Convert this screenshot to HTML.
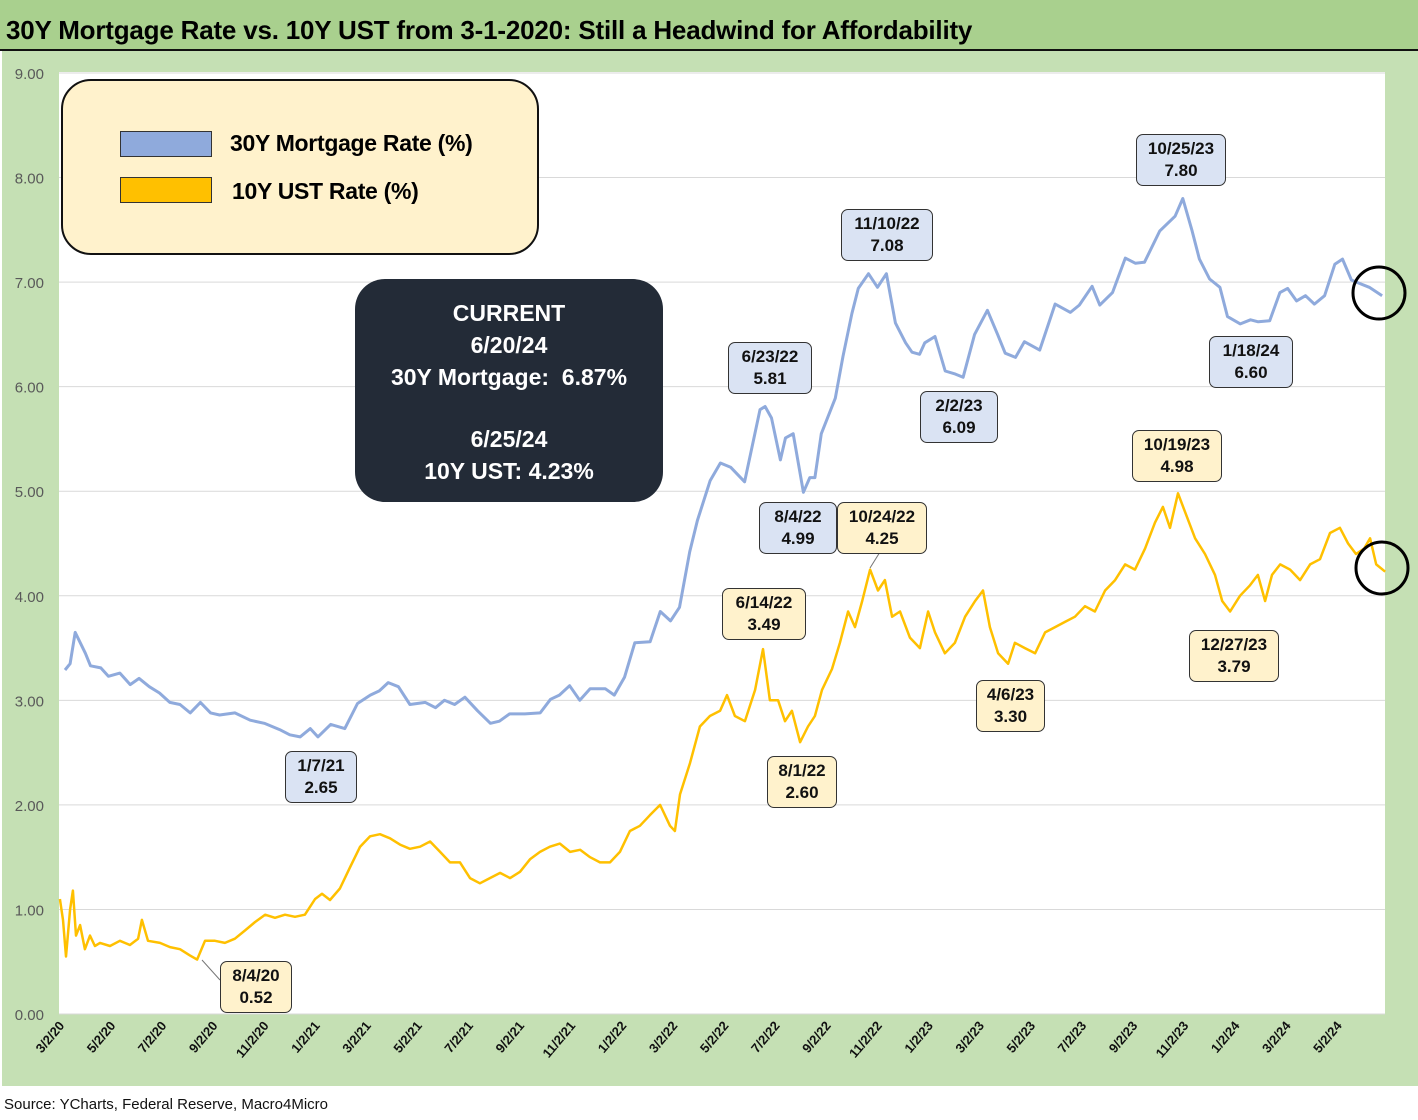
<!DOCTYPE html>
<html><head><meta charset="utf-8">
<style>
body{margin:0;width:1418px;height:1120px;position:relative;background:#fff;font-family:"Liberation Sans",sans-serif;overflow:hidden}
.abs{position:absolute}
.cb{position:absolute;border:1.5px solid #333;border-radius:7px;font-weight:bold;font-size:17px;text-align:center;line-height:22px;padding:3px 0;color:#111}
.bl{background:#dae3f3}.yl{background:#fff2cc}
</style></head><body>
<div class="abs" style="left:0;top:0;width:1418px;height:49px;background:#a9d08e;border-bottom:2px solid #111"></div>
<div class="abs" style="left:6px;top:15px;font-size:26px;font-weight:bold;color:#000;white-space:nowrap;letter-spacing:-0.2px">30Y Mortgage Rate vs. 10Y UST from 3-1-2020: Still a Headwind for Affordability</div>
<div class="abs" style="left:2px;top:51px;width:1416px;height:1035px;background:#c5e0b4"></div>
<svg class="abs" style="left:0;top:0" width="1418" height="1120" id="chart"></svg>
<div class="abs" style="left:61px;top:79px;width:474px;height:172px;background:#fff2cc;border:2px solid #111;border-radius:30px"></div>
<div class="abs" style="left:120px;top:131px;width:90px;height:24px;background:#8faadc;border:1px solid #333"></div>
<div class="abs" style="left:230px;top:130px;font-size:23px;font-weight:bold;letter-spacing:-0.3px">30Y Mortgage Rate (%)</div>
<div class="abs" style="left:120px;top:177px;width:90px;height:24px;background:#ffc000;border:1px solid #333"></div>
<div class="abs" style="left:232px;top:178px;font-size:23px;font-weight:bold;letter-spacing:-0.3px">10Y UST Rate (%)</div>
<div class="abs" style="left:355px;top:279px;width:308px;height:223px;background:#232b37;border-radius:30px;color:#fff;font-weight:bold;font-size:23px;text-align:center;line-height:32px;padding-top:18px;box-sizing:border-box">CURRENT<br>6/20/24<br>30Y Mortgage:&nbsp; 6.87%<br><div style="height:30px"></div>6/25/24<br>10Y UST: 4.23%</div>
<div class="cb bl" style="left:285px;top:751px;width:70px">1/7/21<br>2.65</div>
<div class="cb bl" style="left:728px;top:342px;width:82px">6/23/22<br>5.81</div>
<div class="cb bl" style="left:759px;top:502px;width:76px">8/4/22<br>4.99</div>
<div class="cb bl" style="left:841px;top:209px;width:90px">11/10/22<br>7.08</div>
<div class="cb bl" style="left:920px;top:391px;width:76px">2/2/23<br>6.09</div>
<div class="cb bl" style="left:1136px;top:134px;width:88px">10/25/23<br>7.80</div>
<div class="cb bl" style="left:1209px;top:336px;width:82px">1/18/24<br>6.60</div>
<div class="cb yl" style="left:220px;top:961px;width:70px">8/4/20<br>0.52</div>
<div class="cb yl" style="left:722px;top:588px;width:82px">6/14/22<br>3.49</div>
<div class="cb yl" style="left:767px;top:756px;width:68px">8/1/22<br>2.60</div>
<div class="cb yl" style="left:837px;top:502px;width:88px">10/24/22<br>4.25</div>
<div class="cb yl" style="left:976px;top:680px;width:67px">4/6/23<br>3.30</div>
<div class="cb yl" style="left:1132px;top:430px;width:88px">10/19/23<br>4.98</div>
<div class="cb yl" style="left:1189px;top:630px;width:88px">12/27/23<br>3.79</div>
<div class="abs" style="left:4px;top:1096px;font-size:15px;color:#111">Source: YCharts, Federal Reserve, Macro4Micro</div>
<script>
const yTicks=[0,1,2,3,4,5,6,7,8,9];
const xTickLabels=["3/2/20","5/2/20","7/2/20","9/2/20","11/2/20","1/2/21","3/2/21","5/2/21","7/2/21","9/2/21","11/2/21","1/2/22","3/2/22","5/2/22","7/2/22","9/2/22","11/2/22","1/2/23","3/2/23","5/2/23","7/2/23","9/2/23","11/2/23","1/2/24","3/2/24","5/2/24"];
// months since 3/2/20
const mortMonths=[0,0.2,0.4,0.8,1.0,1.4,1.7,2.15,2.55,2.9,3.3,3.7,4.1,4.5,4.9,5.3,5.7,6.05,6.65,7.25,7.8,8.4,8.8,9.2,9.6,9.9,10.4,10.95,11.45,11.95,12.3,12.65,13.05,13.5,14.1,14.5,14.85,15.25,15.65,16.15,16.65,17.0,17.4,18.0,18.6,19.0,19.35,19.75,20.15,20.55,21.15,21.5,21.9,22.3,22.9,23.3,23.7,24.05,24.45,24.75,25.25,25.65,26.05,26.6,27.2,27.4,27.65,28.0,28.2,28.5,28.9,29.15,29.35,29.6,30.15,30.45,30.8,31.05,31.45,31.8,32.15,32.5,32.9,33.15,33.45,33.65,34.05,34.45,34.85,35.15,35.6,36.1,36.5,36.8,37.2,37.55,38.15,38.75,39.35,39.7,40.2,40.5,41.0,41.5,41.9,42.25,42.85,43.45,43.75,44.1,44.4,44.8,45.2,45.5,46.0,46.4,46.7,47.15,47.55,47.85,48.2,48.55,48.9,49.3,49.7,50.0,50.35,50.65,51.05,51.55];
const mortRates=[3.29,3.35,3.65,3.45,3.33,3.31,3.23,3.26,3.15,3.21,3.13,3.07,2.98,2.96,2.88,2.98,2.88,2.86,2.88,2.81,2.78,2.72,2.67,2.65,2.73,2.65,2.77,2.73,2.97,3.05,3.09,3.17,3.13,2.96,2.98,2.93,3.00,2.96,3.03,2.90,2.78,2.80,2.87,2.87,2.88,3.01,3.05,3.14,3.00,3.11,3.11,3.05,3.22,3.55,3.56,3.85,3.76,3.89,4.42,4.72,5.10,5.27,5.23,5.09,5.78,5.81,5.70,5.30,5.51,5.55,4.99,5.13,5.13,5.55,5.89,6.29,6.70,6.94,7.08,6.95,7.08,6.61,6.42,6.33,6.31,6.42,6.48,6.15,6.12,6.09,6.50,6.73,6.50,6.32,6.28,6.43,6.35,6.79,6.71,6.78,6.96,6.78,6.90,7.23,7.18,7.19,7.49,7.63,7.80,7.50,7.22,7.03,6.95,6.67,6.60,6.64,6.62,6.63,6.90,6.94,6.82,6.87,6.79,6.87,7.17,7.22,7.02,6.99,6.95,6.87];
const ustMonths=[-0.2,-0.08,0.04,0.2,0.31,0.43,0.59,0.78,0.98,1.17,1.37,1.76,2.15,2.54,2.86,3.01,3.25,3.72,4.11,4.5,4.89,5.17,5.48,5.87,6.26,6.65,7.05,7.44,7.83,8.22,8.61,9.0,9.39,9.79,10.06,10.37,10.76,11.15,11.55,11.94,12.33,12.72,13.11,13.5,13.9,14.29,14.68,15.07,15.46,15.85,16.24,16.63,17.03,17.42,17.81,18.2,18.59,18.98,19.37,19.77,20.16,20.55,20.94,21.33,21.72,22.11,22.5,22.89,23.29,23.68,23.87,24.07,24.46,24.85,25.24,25.64,25.91,26.22,26.61,27.01,27.32,27.59,27.91,28.18,28.45,28.77,29.08,29.35,29.63,30.02,30.33,30.65,30.92,31.2,31.51,31.82,32.09,32.37,32.68,33.07,33.46,33.78,34.05,34.44,34.83,35.23,35.62,35.93,36.2,36.52,36.91,37.18,37.57,37.97,38.36,38.75,39.14,39.53,39.92,40.31,40.71,41.1,41.49,41.88,42.27,42.66,42.97,43.25,43.56,43.84,44.23,44.62,45.01,45.29,45.6,45.99,46.38,46.69,46.97,47.24,47.56,47.95,48.34,48.73,49.12,49.51,49.9,50.22,50.53,50.84,51.08,51.32,51.67];
const ustRates=[1.10,0.90,0.55,1.00,1.18,0.75,0.85,0.62,0.75,0.65,0.68,0.65,0.70,0.66,0.72,0.90,0.70,0.68,0.64,0.62,0.56,0.52,0.70,0.70,0.68,0.72,0.80,0.88,0.95,0.92,0.95,0.93,0.95,1.10,1.15,1.09,1.20,1.40,1.60,1.70,1.72,1.68,1.62,1.58,1.60,1.65,1.55,1.45,1.45,1.30,1.25,1.30,1.35,1.30,1.36,1.48,1.55,1.60,1.63,1.55,1.57,1.50,1.45,1.45,1.55,1.75,1.80,1.90,2.00,1.80,1.75,2.10,2.40,2.75,2.85,2.90,3.05,2.85,2.80,3.10,3.49,3.00,3.00,2.80,2.90,2.60,2.75,2.85,3.10,3.30,3.55,3.85,3.70,3.95,4.25,4.05,4.15,3.80,3.85,3.60,3.50,3.85,3.65,3.45,3.55,3.80,3.95,4.05,3.70,3.45,3.35,3.55,3.50,3.45,3.65,3.70,3.75,3.80,3.90,3.85,4.05,4.15,4.30,4.25,4.45,4.70,4.85,4.65,4.98,4.80,4.55,4.40,4.20,3.95,3.85,4.00,4.10,4.20,3.95,4.20,4.30,4.25,4.15,4.30,4.35,4.60,4.65,4.50,4.40,4.45,4.55,4.30,4.23];

const NS="http://www.w3.org/2000/svg";
const svg=document.getElementById('chart');
const X0=59,X1=1385,Y0=1014,YTOP=73;
const xScale=m=>65+m*25.55;
const yScale=v=>Y0-(Y0-YTOP)*v/9;
function mk(t,a){const e=document.createElementNS(NS,t);for(const k in a)e.setAttribute(k,a[k]);svg.appendChild(e);return e;}
const pa=mk('rect',{x:X0,y:YTOP-1,width:X1-X0,height:Y0-YTOP+1,fill:'#fff'});


yTicks.forEach(v=>{
  const g=mk('line',{x1:X0,x2:X1,y1:yScale(v),y2:yScale(v),stroke:'#d9d9d9','stroke-width':1});
  
  
  const t=mk('text',{x:44,y:yScale(v)+6,'text-anchor':'end','font-size':15,fill:'#595959','font-family':'Liberation Sans'});
  t.textContent=v.toFixed(2);
  
  
});
xTickLabels.forEach((l,i)=>{
  const x=xScale(i*2);
  const t=mk('text',{x:x,y:1026,'text-anchor':'end','font-size':13,'font-weight':'bold',fill:'#111','font-family':'Liberation Sans',transform:`rotate(-50 ${x} 1026)`});
  t.textContent=l;
  
  
});
function line(ms,vs,col,name,w){
  const d=ms.map((m,i)=>(i?'L':'M')+xScale(m).toFixed(1)+','+yScale(vs[i]).toFixed(1)).join('');
  const p=mk('path',{d:d,fill:'none',stroke:col,'stroke-width':w,'stroke-linejoin':'round'});
  
  
}
line(mortMonths,mortRates,'#8faadc','mortgage-rate-line',3);
line(ustMonths,ustRates,'#ffc000','ust-rate-line',2.5);
const l1=mk('line',{x1:202,y1:960,x2:220,y2:980,stroke:'#777','stroke-width':1});


const l2=mk('line',{x1:870,y1:568,x2:880,y2:552,stroke:'#777','stroke-width':1});


[[1379,293],[1382,568]].forEach(c=>{
  const e=mk('circle',{cx:c[0],cy:c[1],r:26,fill:'none',stroke:'#000','stroke-width':3});
  
  
});
</script>
</body></html>
